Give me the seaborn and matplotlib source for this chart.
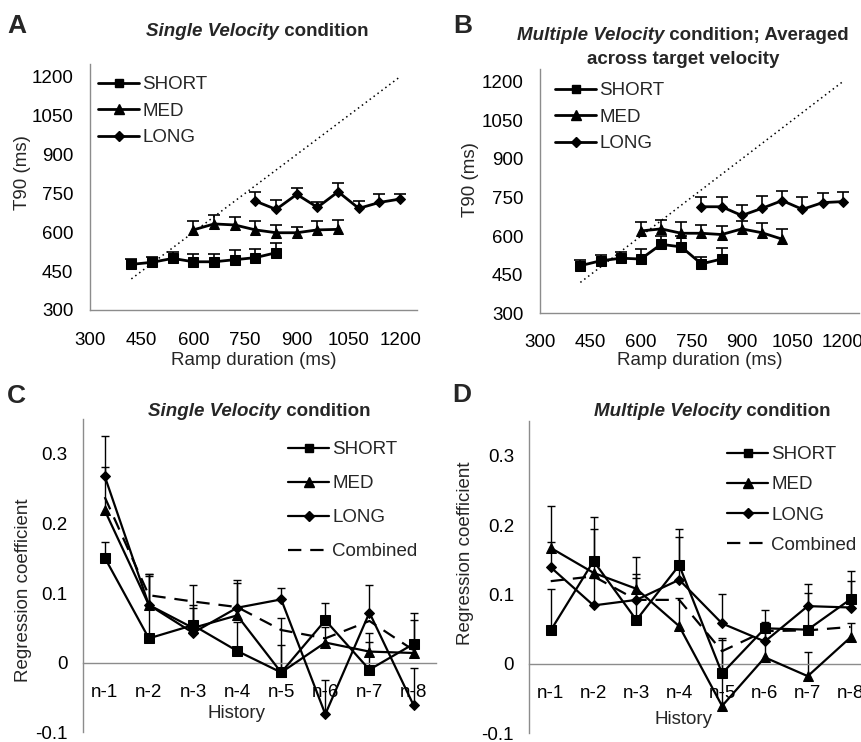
import numpy as np
import pandas as pd
import matplotlib
matplotlib.use("Agg")
import matplotlib.pyplot as plt
from matplotlib.lines import Line2D
import seaborn as sns

# ---------------- data ----------------
series_names = ["SHORT", "MED", "LONG"]

A_x_short = [420, 480, 540, 600, 660, 720, 780, 840]
A_x_med = [600, 660, 720, 780, 840, 900, 960, 1020]
A_x_long = [780, 840, 900, 960, 1020, 1080, 1140, 1200]

A_short = [476, 484, 499, 486, 486, 494, 502, 521]
A_short_err = [22, 20, 26, 29, 29, 36, 32, 36]
A_med = [609, 632, 628, 609, 598, 598, 609, 611]
A_med_err = [36, 36, 30, 33, 29, 22, 33, 36]
A_long = [720, 688, 746, 696, 756, 692, 715, 728]
A_long_err = [36, 35, 23, 21, 33, 28, 31, 19]

B_short = [485, 504, 514, 511, 568, 558, 492, 511]
B_short_err = [22, 22, 26, 40, 33, 43, 28, 44]
B_med = [620, 628, 611, 611, 606, 628, 613, 588]
B_med_err = [36, 35, 45, 31, 35, 30, 39, 39]
B_long = [714, 714, 680, 708, 738, 704, 730, 734]
B_long_err = [37, 37, 41, 49, 39, 47, 36, 36]

identity_line = [420, 1200]

history_labels = ["n-1", "n-2", "n-3", "n-4", "n-5", "n-6", "n-7", "n-8"]

C_short = [0.151, 0.035, 0.054, 0.017, -0.014, 0.061, -0.010, 0.027]
C_short_err = [0.023, 0.092, 0.058, 0.042, 0.040, 0.025, 0.040, 0.044]
C_med = [0.219, 0.083, 0.050, 0.068, -0.014, 0.029, 0.016, 0.014]
C_med_err = [0.062, 0.044, 0.033, 0.046, 0.078, 0.022, 0.026, 0.048]
C_long = [0.268, 0.083, 0.043, 0.079, 0.091, -0.074, 0.072, -0.061]
C_long_err = [0.058, 0.042, 0.035, 0.040, 0.017, 0.049, 0.039, 0.054]
C_comb = [0.238, 0.097, 0.088, 0.080, 0.047, 0.035, 0.060, 0.018]

D_short = [0.048, 0.148, 0.063, 0.142, -0.014, 0.051, 0.049, 0.093]
D_short_err = [0.059, 0.063, 0.066, 0.052, 0.051, 0.027, 0.053, 0.040]
D_med = [0.167, 0.131, 0.108, 0.054, -0.061, 0.009, -0.018, 0.038]
D_med_err = [0.060, 0.063, 0.046, 0.040, 0.095, 0.040, 0.035, 0.021]
D_long = [0.139, 0.084, 0.092, 0.121, 0.058, 0.032, 0.083, 0.081]
D_long_err = [0.036, 0.040, 0.031, 0.061, 0.042, 0.028, 0.032, 0.038]
D_comb = [0.119, 0.126, 0.092, 0.092, 0.018, 0.047, 0.048, 0.053]

# ---------------- style ----------------
sns.set_theme(style="white")
plt.rcParams["font.family"] = ["Liberation Sans", "DejaVu Sans"]
FS = 13.5
TFS = 13.5
AXCOL = "#8c8c8c"
DASH = (0, (6, 4))
markers = {"SHORT": "s", "MED": "^", "LONG": "D"}
msizes = {"SHORT": 6.5, "MED": 7.5, "LONG": 5.5}

W, H = 862, 742
fig = plt.figure(figsize=(W / 100, H / 100), dpi=100)


def px_axes(l, r, b, t):
    return fig.add_axes([l / W, 1 - b / H, (r - l) / W, (b - t) / H])


def style_axes(ax):
    sns.despine(ax=ax)
    for s in ("left", "bottom"):
        ax.spines[s].set_color(AXCOL)
        ax.spines[s].set_linewidth(1.0)
    ax.tick_params(which="both", colors=AXCOL, labelcolor="black", labelsize=FS,
                   direction="out", length=4, width=1.0)
    ax.set_facecolor("none")


def upper_err(ax, x, y, e, capsize, lw):
    y = np.asarray(y, float)
    e = np.asarray(e, float)
    _, caps, _ = ax.errorbar(x, y, yerr=[np.zeros_like(e), e], fmt="none",
                             ecolor="black", elinewidth=lw, capsize=capsize,
                             capthick=lw, zorder=2)
    for c in caps:
        if np.allclose(c.get_ydata(), y):
            c.set_visible(False)


def draw_series(ax, x, y, name, lw, ms, err=None, capsize=3, elw=1.0):
    df = pd.DataFrame({"x": x, "y": y})
    sns.lineplot(data=df, x="x", y="y", ax=ax, color="black", linewidth=lw,
                 marker=markers[name], markersize=ms, markeredgecolor="black",
                 markerfacecolor="black", zorder=3, legend=False)
    if err is not None:
        upper_err(ax, x, y, err, capsize, elw)


def mixed_title(xc, yc, italic_part, rest, size):
    r = fig.canvas.get_renderer()
    t1 = fig.text(0, 0, italic_part, fontsize=size, fontweight="bold", fontstyle="italic",
                  transform=None, va="center")
    t2 = fig.text(0, 0, rest, fontsize=size, fontweight="bold", transform=None, va="center")
    w1 = t1.get_window_extent(r).width
    w2 = t2.get_window_extent(r).width
    x0 = xc - (w1 + w2) / 2
    t1.set_position((x0, H - yc))
    t2.set_position((x0 + w1, H - yc))


# ---------------- panel A & B ----------------
def ramp_panel(ax, data, pad_y, pad_x, lab_pos):
    (xs, ys, es) = data
    ax.plot(identity_line, identity_line, color="black", linestyle=(0, (1, 2.2)),
            linewidth=1.1, zorder=1)
    for name, x, y, e in zip(series_names, xs, ys, es):
        draw_series(ax, x, y, name, lw=2.0, ms=msizes[name], err=e, capsize=4, elw=1.2)
    ax.set_xlim(300, 1248)
    ax.set_ylim(300, 1250)
    ticks = [300, 450, 600, 750, 900, 1050, 1200]
    ax.set_xticks(ticks)
    ax.set_yticks(ticks)
    style_axes(ax)
    ax.tick_params(axis="y", pad=pad_y)
    ax.tick_params(axis="x", pad=pad_x)
    ax.set_xlabel("Ramp duration (ms)", fontsize=FS)
    ax.set_ylabel("T90 (ms)", fontsize=FS)
    ax.xaxis.set_label_coords(0.5, lab_pos[0])
    ax.yaxis.set_label_coords(lab_pos[1], lab_pos[2])


axA = px_axes(90, 416.7, 310, 63.7)
ramp_panel(axA, ([A_x_short, A_x_med, A_x_long], [A_short, A_med, A_long],
                 [A_short_err, A_med_err, A_long_err]), 8, 12, (-0.172, -0.18, 0.556))

axB = px_axes(540, 858.9, 313.3, 68.8)
ramp_panel(axB, ([A_x_short, A_x_med, A_x_long], [B_short, B_med, B_long],
                 [B_short_err, B_med_err, B_long_err]), 8, 11, (-0.160, -0.19, 0.545))


def make_legend(ax, anchor, combined, spacing):
    handles = []
    for name in series_names:
        handles.append(Line2D([0], [0], color="black", linewidth=2.0 if not combined else 1.6,
                              marker=markers[name], markersize=msizes[name] - 0.5,
                              markerfacecolor="black", markeredgecolor="black"))
    labels = list(series_names)
    if combined:
        handles.append(Line2D([0], [0], color="black", linewidth=1.6, linestyle=DASH))
        labels.append("Combined")
    leg = ax.legend(handles, labels, loc="upper left", bbox_to_anchor=anchor,
                    bbox_transform=fig.transFigure, frameon=False, fontsize=FS,
                    handlelength=2.2, handletextpad=0.15, labelspacing=spacing,
                    borderaxespad=0, borderpad=0, numpoints=1)
    return leg


make_legend(axA, (98 / W, 1 - 76 / H), False, 0.5)
make_legend(axB, (555 / W, 1 - 82 / H), False, 0.5)

# ---------------- panel C & D ----------------
def history_panel(ax, ys, es, comb, pads, lab):
    pos = np.arange(1, 9)
    ax.plot(pos, comb, color="black", linewidth=1.6, linestyle=DASH, zorder=2.5)
    for name, y, e in zip(series_names, ys, es):
        draw_series(ax, pos, y, name, lw=1.6, ms=msizes[name], err=e, capsize=3, elw=1.0)
    ax.set_xlim(0.5, 8.5)
    ax.set_ylim(-0.1, 0.35)
    ax.set_yticks([-0.1, 0, 0.1, 0.2, 0.3])
    ax.set_yticklabels(["-0.1", "0", "0.1", "0.2", "0.3"])
    ax.set_xticks(pos)
    ax.set_xticklabels(history_labels)
    ax.set_xticks(np.arange(1.5, 8.6, 1.0), minor=True)
    style_axes(ax)
    ax.spines["bottom"].set_position(("data", 0))
    ax.tick_params(axis="x", which="major", length=0, pad=pads[1])
    ax.tick_params(axis="x", which="minor", length=5)
    ax.tick_params(axis="y", pad=pads[0])
    ax.set_xlabel("History", fontsize=FS)
    ax.set_ylabel("Regression coefficient", fontsize=FS)
    ax.xaxis.set_label_coords(lab[0], lab[1])
    ax.yaxis.set_label_coords(lab[2], lab[3])


axC = px_axes(82.7, 435.6, 732.3, 419.2)
history_panel(axC, [C_short, C_med, C_long], [C_short_err, C_med_err, C_long_err], C_comb,
              (7, 15), (0.436, 0.087, -0.144, 0.454))
make_legend(axC, (288 / W, 1 - 441 / H), True, 0.9)

axD = px_axes(529.3, 872, 733.0, 421.0)
history_panel(axD, [D_short, D_med, D_long], [D_short_err, D_med_err, D_long_err], D_comb,
              (7, 15), (0.449, 0.071, -0.160, 0.577))
make_legend(axD, (727 / W, 1 - 446 / H), True, 0.7)

# ---------------- titles & panel letters ----------------
mixed_title(257, 32, "Single Velocity", " condition", TFS)
mixed_title(683, 35, "Multiple Velocity", " condition; Averaged", TFS)
fig.text(683 / W, 1 - 59 / H, "across target velocity", fontsize=TFS, fontweight="bold",
         ha="center", va="center")
mixed_title(259, 412, "Single Velocity", " condition", TFS)
mixed_title(712, 412, "Multiple Velocity", " condition", TFS)

for letter, x, y in [("A", 7, 33), ("B", 453, 33), ("C", 7, 403), ("D", 452, 402)]:
    fig.text(x / W, 1 - y / H, letter, fontsize=19, fontweight="bold", ha="left", va="baseline")

fig.savefig("out.png", dpi=100, facecolor="white")
